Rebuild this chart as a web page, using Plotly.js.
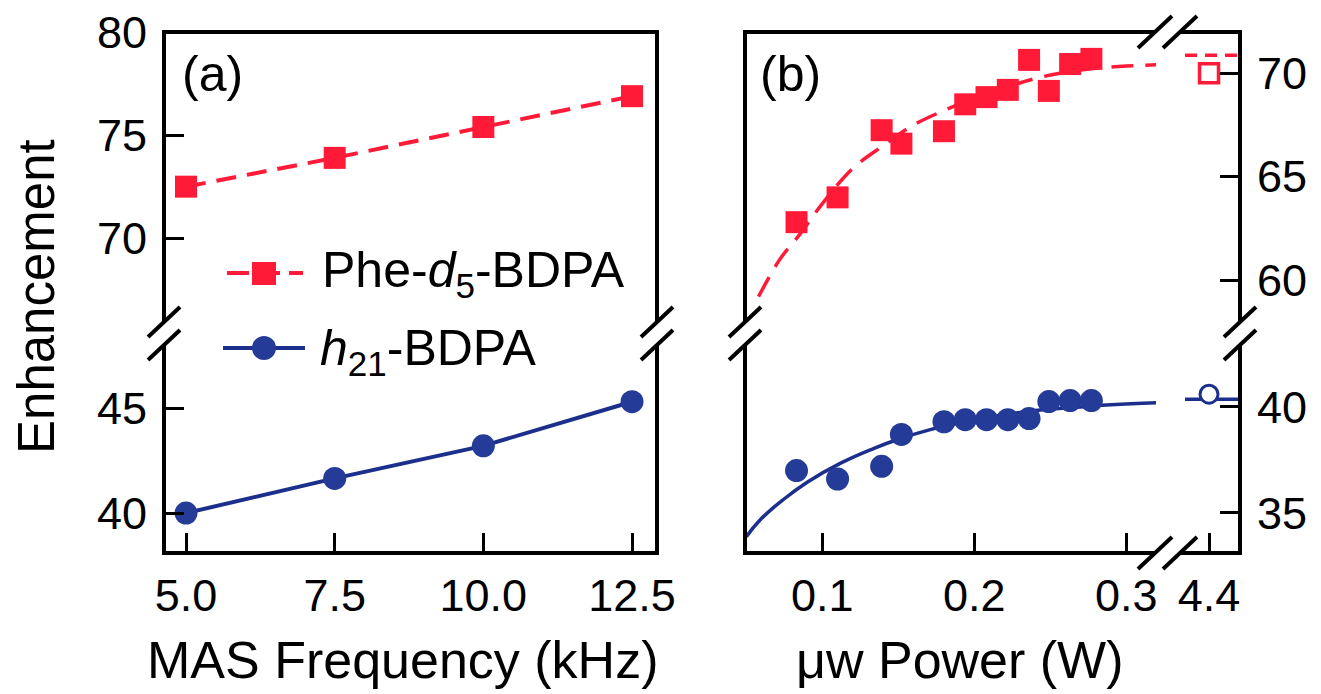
<!DOCTYPE html>
<html>
<head>
<meta charset="utf-8">
<script src="https://cdn.plot.ly/plotly-3.0.1.min.js"></script>
<style>html,body{margin:0;padding:0;background:#fff;}#chart{width:1321px;height:694px;}</style>
</head>
<body>
<div id="chart"></div>
<script>
// ---------- data ----------
const masFreq = [5.0, 7.5, 10.0, 12.5];
const pheMAS  = [72.5, 73.9, 75.4, 76.9];
const h21MAS  = [40.0, 41.65, 43.2, 45.3];

const power    = [0.083, 0.110, 0.139, 0.152, 0.180, 0.194, 0.208, 0.222, 0.236, 0.249, 0.263, 0.277];
const phePower = [62.8, 64.0, 67.25, 66.6, 67.2, 68.5, 68.85, 69.2, 70.65, 69.15, 70.45, 70.7];
const h21Power = [37.0, 36.6, 37.2, 38.7, 39.3, 39.4, 39.4, 39.4, 39.45, 40.25, 40.3, 40.3];

const highPower = [4.4];
const pheHigh   = [70.0];
const h21High   = [40.6];

const fitPowerPhe = [0.058, 0.072, 0.085, 0.100, 0.120, 0.140, 0.160, 0.180, 0.200, 0.220, 0.240, 0.260, 0.280, 0.300, 0.320];
const fitPhe      = [59.2, 61.0, 62.2, 63.7, 65.4, 66.5, 67.5, 68.2, 68.8, 69.3, 69.75, 70.05, 70.25, 70.35, 70.42];
const fitPowerH21 = [0.050, 0.059, 0.074, 0.090, 0.112, 0.134, 0.151, 0.171, 0.190, 0.210, 0.230, 0.250, 0.270, 0.290, 0.320];
const fitH21      = [33.88, 34.67, 35.61, 36.45, 37.35, 38.05, 38.5, 38.93, 39.25, 39.52, 39.74, 39.9, 40.0, 40.1, 40.2];
const fitHighPower = [4.32, 4.50];
const fitPheHigh   = [70.87, 70.87];
const fitH21High   = [40.36, 40.36];

const ticksMAS = [5.0, 7.5, 10.0, 12.5];
const tickTextMAS = ['5.0', '7.5', '10.0', '12.5'];
const ticksPow = [0.1, 0.2, 0.3];
const tickTextPow = ['0.1', '0.2', '0.3'];
const ticksHigh = [4.4];
const tickTextHigh = ['4.4'];

// ---------- styling ----------
const W = 1321, H = 694;
const px = x => x / W;
const py = y => 1 - y / H;
const RED = '#ff1a38';
const BLUE = '#243b98';
const BLUEL = '#1c2f8c';
const FONT = 'Liberation Sans, Arial, Helvetica, sans-serif';
const TICKF = {family: FONT, size: 45, color: '#000'};

const traces = [
  {x: masFreq, y: pheMAS, xaxis: 'x', yaxis: 'y', mode: 'lines+markers',
   line: {color: RED, width: 4, dash: '20px,11px'},
   marker: {symbol: 'square', size: 22, color: RED}},
  {x: masFreq, y: h21MAS, xaxis: 'x', yaxis: 'y2', mode: 'lines+markers',
   line: {color: BLUEL, width: 4},
   marker: {symbol: 'circle', size: 23, color: BLUE}},
  {x: fitPowerPhe, y: fitPhe, xaxis: 'x2', yaxis: 'y3', mode: 'lines',
   line: {color: RED, width: 3.5, dash: '22px,12px', shape: 'spline'}},
  {x: power, y: phePower, xaxis: 'x2', yaxis: 'y3', mode: 'markers',
   marker: {symbol: 'square', size: 22, color: RED}},
  {x: fitPowerH21, y: fitH21, xaxis: 'x2', yaxis: 'y4', mode: 'lines',
   line: {color: BLUEL, width: 3.5, shape: 'spline', smoothing: 1.3}},
  {x: power, y: h21Power, xaxis: 'x2', yaxis: 'y4', mode: 'markers',
   marker: {symbol: 'circle', size: 23, color: BLUE}},
  {x: fitHighPower, y: fitPheHigh, xaxis: 'x3', yaxis: 'y3', mode: 'lines',
   line: {color: RED, width: 3.5, dash: '12px,8px'}},
  {x: highPower, y: pheHigh, xaxis: 'x3', yaxis: 'y3', mode: 'markers',
   marker: {symbol: 'square', size: 19, color: '#fff', line: {color: RED, width: 3.5}}},
  {x: fitHighPower, y: fitH21High, xaxis: 'x3', yaxis: 'y4', mode: 'lines',
   line: {color: BLUEL, width: 3.5}},
  {x: highPower, y: h21High, xaxis: 'x3', yaxis: 'y4', mode: 'markers',
   marker: {symbol: 'circle', size: 18, color: '#fff', line: {color: BLUEL, width: 3}}}
];

const axBase = {showgrid: false, zeroline: false, showline: false, ticks: 'inside',
  ticklen: 20, tickwidth: 3, tickcolor: '#000', tickfont: TICKF, fixedrange: true};

const layout = {
  width: W, height: H, margin: {l: 0, r: 0, t: 0, b: 0},
  paper_bgcolor: '#fff', plot_bgcolor: 'rgba(0,0,0,0)', showlegend: false,
  font: {family: FONT, color: '#000'},
  xaxis: Object.assign({}, axBase, {domain: [px(164), px(657)], range: [4.63, 12.92],
    anchor: 'y2', tickmode: 'array', tickvals: ticksMAS, ticktext: tickTextMAS, ticklabelstandoff: 12}),
  yaxis: Object.assign({}, axBase, {domain: [py(322), py(32)], range: [65.92, 80.02],
    anchor: 'x', tickmode: 'array', tickvals: [70, 75, 80], ticklabelstandoff: 16}),
  yaxis2: Object.assign({}, axBase, {domain: [py(553), py(345)], range: [38.1, 48.0],
    anchor: 'x', tickmode: 'array', tickvals: [40, 45], ticklabelstandoff: 16}),
  xaxis2: Object.assign({}, axBase, {domain: [px(745), px(1156)], range: [0.0491, 0.3195],
    anchor: 'y4', tickmode: 'array', tickvals: ticksPow, ticktext: tickTextPow, ticklabelstandoff: 12}),
  xaxis3: Object.assign({}, axBase, {domain: [px(1180), px(1240)], range: [4.3033, 4.5033],
    anchor: 'y4', tickmode: 'array', tickvals: ticksHigh, ticktext: tickTextHigh, ticklabelstandoff: 12}),
  yaxis3: Object.assign({}, axBase, {domain: [py(322), py(32)], range: [57.97, 72.0],
    anchor: 'x3', side: 'right', tickmode: 'array', tickvals: [60, 65, 70], ticklabelstandoff: 16}),
  yaxis4: Object.assign({}, axBase, {domain: [py(553), py(345)], range: [33.11, 42.92],
    anchor: 'x3', side: 'right', tickmode: 'array', tickvals: [35, 40], ticklabelstandoff: 16}),
  shapes: [],
  annotations: []
};

function seg(x0, y0, x1, y1, extra) {
  return Object.assign({type: 'line', xref: 'paper', yref: 'paper',
    x0: px(x0), y0: py(y0), x1: px(x1), y1: py(y1), line: {color: '#000', width: 4}}, extra || {});
}
const S = layout.shapes;
// frame (a)
S.push(seg(162, 32, 659, 32));
S.push(seg(164, 30, 164, 322), seg(657, 30, 657, 322));
S.push(seg(164, 345, 164, 555), seg(657, 345, 657, 555));
S.push(seg(162, 553, 659, 553));
// frame (b)
S.push(seg(743, 32, 1155, 32), seg(1180, 32, 1242, 32));
S.push(seg(745, 30, 745, 322), seg(1240, 30, 1240, 322));
S.push(seg(745, 345, 745, 555), seg(1240, 345, 1240, 555));
S.push(seg(743, 553, 1155, 553), seg(1180, 553, 1242, 553));
// y breaks
[164, 657, 745, 1240].forEach(X => {
  [322, 345].forEach(Y => S.push(seg(X - 16, Y + 15, X + 16, Y - 15)));
});
// x breaks
[32, 553].forEach(Y => {
  [1155, 1180].forEach(X => S.push(seg(X - 17, Y + 16, X + 17, Y - 16)));
});
// legend symbols
S.push(seg(227, 273, 303, 273, {line: {color: RED, width: 4, dash: '22px,9px'}}));
S.push({type: 'rect', xref: 'paper', yref: 'paper', x0: px(252), x1: px(276), y0: py(285), y1: py(262),
  fillcolor: RED, line: {width: 0}});
S.push(seg(223, 348, 305, 348, {line: {color: BLUEL, width: 4}}));
S.push({type: 'circle', xref: 'paper', yref: 'paper', x0: px(252), x1: px(276), y0: py(360), y1: py(336),
  fillcolor: BLUE, line: {width: 0}});

const A = layout.annotations;
function ann(text, x, y, size, extra) {
  return Object.assign({text: text, xref: 'paper', yref: 'paper', x: px(x), y: py(y),
    showarrow: false, font: {family: FONT, size: size, color: '#000'}}, extra || {});
}
A.push(ann('Phe-<i>d</i><sub>5</sub>-BDPA', 320, 273, 50, {xanchor: 'left', yanchor: 'middle'}));
A.push(ann('<i>h</i><sub>21</sub>-BDPA', 318, 351, 50, {xanchor: 'left', yanchor: 'middle'}));
A.push(ann('(a)', 180, 74, 50, {xanchor: 'left', yanchor: 'middle'}));
A.push(ann('(b)', 758, 74, 50, {xanchor: 'left', yanchor: 'middle'}));
A.push(ann('Enhancement', 36, 297, 51, {textangle: -90, xanchor: 'center', yanchor: 'middle'}));
A.push(ann('MAS Frequency (kHz)', 402, 660, 52, {xanchor: 'center', yanchor: 'middle'}));
A.push(ann('μw Power (W)', 960, 660, 52, {xanchor: 'center', yanchor: 'middle'}));

Plotly.newPlot('chart', traces, layout, {displayModeBar: false, staticPlot: true});
</script>
</body>
</html>
